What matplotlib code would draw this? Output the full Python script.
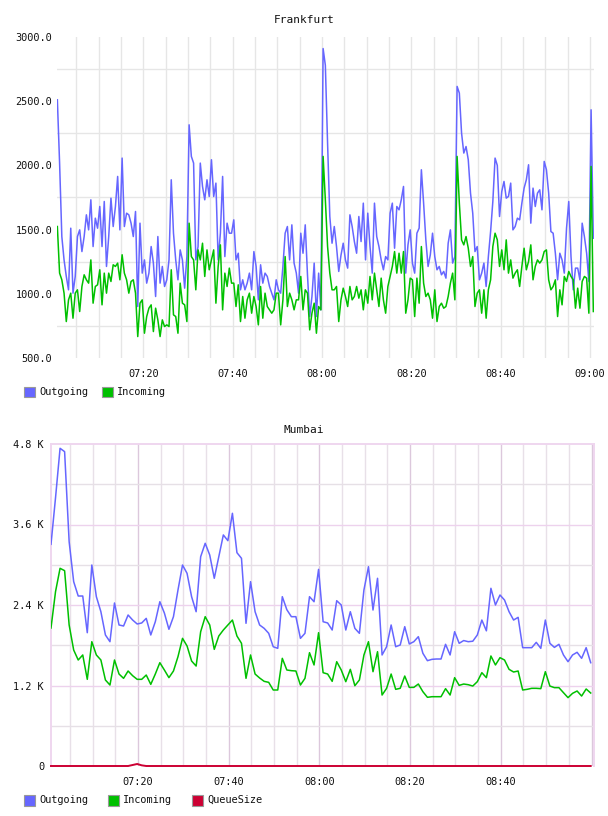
import matplotlib
matplotlib.use('Agg')
import matplotlib.pyplot as plt
import numpy as np
from matplotlib.patches import Rectangle

# ---------------- data ----------------
fra_outgoing = [
    2511, 2018, 1446, 1264, 1135, 1031, 1511, 1005, 1135, 1446,
    1498, 1329, 1446, 1615, 1498, 1732, 1368, 1589, 1511, 1680,
    1368, 1719, 1213, 1446, 1745, 1524, 1680, 1914, 1498, 2057,
    1524, 1628, 1615, 1550, 1446, 1641, 901, 1550, 1161, 1264,
    1083, 1161, 1368, 1239, 979, 1446, 1083, 1213, 1057, 1109,
    1264, 1888, 1472, 1264, 1109, 1342, 1264, 1044, 1290, 2316,
    2070, 2018,
    1264, 1368, 2018, 1836, 1732, 1888, 1758, 2044, 1758, 1862,
    1264, 1472, 1914, 1290, 1550, 1472, 1472, 1576, 1264, 1316,
    1031, 1109, 1031, 1083, 1161, 1031, 1329, 1213, 953, 1226,
    1083, 1161, 1135, 1057, 1005, 953, 1109, 1031, 1005, 1213,
    1472, 1524, 1264, 1537, 1239, 1161, 1005, 1472, 1316, 1537,
    1148, 823, 979, 1239, 823, 1161, 875, 2910, 2780, 2173,
    1602, 1394,
    1524, 1368, 1174, 1300, 1394, 1264, 1200, 1615, 1524, 1407,
    1316, 1602, 1407, 1706, 1264, 1628, 1368, 1161, 1706, 1446,
    1368, 1264, 1187, 1290, 1264, 1628, 1706, 1355, 1680, 1654,
    1732, 1836, 1161, 1381, 1498, 1239, 1161, 1472, 1511, 1966,
    1706, 1420, 1213, 1303, 1472, 1290, 1187, 1213, 1148, 1174,
    1122, 1394, 1498, 1239, 1290, 2615, 2563, 2251, 2096, 2147,
    2044, 1784,
    1628, 1329, 1368, 1109, 1161, 1239, 1057, 1290, 1485, 1719,
    2057, 2000, 1602, 1797, 1875, 1745, 1758, 1862, 1498, 1524,
    1589, 1576, 1706, 1823, 1888, 2005, 1550, 1823, 1680, 1784,
    1810, 1654, 2031, 1966, 1784, 1485, 1472, 1316, 1109, 1316,
    1264, 1161, 1511, 1719, 1290, 1031, 1200, 1200, 1109, 1550,
    1446, 1316, 1096, 2433, 1433,
]
fra_incoming = [
    1524, 1161, 1109, 1005, 784, 953, 1005, 810, 1005, 1031,
    862, 1057, 1148, 1109, 1083, 1264, 927, 1057, 1070, 1187,
    914, 1161, 1005, 1161, 1096, 1226, 1213, 1239, 1109, 1304,
    1161, 1109, 1005, 1096, 1109, 1005, 667, 927, 953, 693,
    823, 888, 914, 706, 888, 797, 667, 797, 745, 758,
    745, 1187, 836, 823, 693, 1083, 927, 914, 784, 1550,
    1290, 1264,
    1031, 1342, 1264, 1394, 1135, 1342, 1187, 1264, 1342, 927,
    1213, 1381, 875, 1161, 1057, 1200, 1083, 1083, 901, 1070,
    784, 979, 810, 953, 1005, 849, 979, 901, 758, 1057,
    810, 1005, 901, 875, 849, 875, 1005, 1005, 758, 953,
    1290, 901, 1005, 953, 875, 953, 953, 1135, 875, 1031,
    1005, 719, 849, 927, 693, 901, 875, 2070, 1732, 1368,
    1161, 1031,
    1031, 1057, 784, 953, 1044, 979, 901, 1057, 953, 979,
    1057, 966, 1031, 875, 1031, 927, 1135, 953, 1161, 1031,
    901, 1122, 953, 849, 1057, 1135, 1213, 1329, 1161, 1316,
    1161, 1329, 849, 953, 1122, 1109, 823, 1122, 927, 1368,
    1083, 979, 1005, 953, 810, 1031, 784, 901, 927, 888,
    901, 979, 1083, 1161, 953, 2070, 1706, 1420, 1381, 1446,
    1355, 1213,
    1290, 901, 1005, 1031, 849, 1031, 810, 1031, 1109, 1368,
    1472, 1420, 1213, 1342, 1187, 1420, 1161, 1264, 1122, 1161,
    1187, 1057, 1213, 1355, 1187, 1252, 1381, 1109, 1213, 1264,
    1239, 1264, 1329, 1342, 1109, 1031, 1057, 1109, 823, 1031,
    914, 1135, 1096, 1174, 1135, 1109, 888, 1044, 888, 1096,
    1135, 1122, 849, 1992, 862,
]

mum_outgoing = [
    3305, 4000, 4736, 4686, 3344, 2748, 2534, 2534, 1987, 2996,
    2524, 2300, 1953, 1853, 2430, 2102, 2087, 2251, 2176, 2117,
    2132, 2201, 1953, 2151, 2449, 2280, 2038, 2226, 2624, 2996,
    2872, 2524, 2300, 3120, 3320, 3145, 2798, 3120, 3444, 3359,
    3767, 3180, 3096, 2127, 2748, 2300, 2102, 2052, 1978, 1778,
    1754, 2524, 2330, 2226, 2226, 1903, 1978, 2524, 2449, 2931,
    2151, 2132, 2027, 2464, 2400, 2027, 2300, 2052, 1978, 2624,
    2971, 2325, 2798, 1655, 1778, 2102, 1778, 1804, 2077, 1819,
    1853, 1928, 1680, 1570, 1590, 1595, 1595, 1814, 1655, 2002,
    1829, 1870, 1853, 1860, 1953, 2176, 2015, 2649, 2400, 2549,
    2474, 2300, 2176, 2216, 1764, 1764, 1764, 1843, 1754, 2176,
    1829, 1768, 1814, 1655, 1555, 1655, 1695, 1605, 1764, 1540,
]
mum_incoming = [
    2057, 2600, 2947, 2912, 2102, 1729, 1580, 1655, 1292, 1853,
    1655, 1580, 1282, 1207, 1580, 1371, 1307, 1416, 1346, 1292,
    1292, 1356, 1217, 1371, 1540, 1431, 1317, 1416, 1630, 1903,
    1789, 1565, 1490, 2002, 2226, 2102, 1739, 1938, 2027, 2102,
    2176, 1938, 1829, 1307, 1655, 1371, 1312, 1262, 1247, 1133,
    1133, 1605, 1431, 1421, 1416, 1207, 1307, 1689, 1506, 1987,
    1391, 1371, 1262, 1555, 1431, 1257, 1441, 1197, 1282, 1655,
    1853, 1406, 1704, 1058, 1158, 1371, 1143, 1158, 1341, 1172,
    1172, 1222, 1108, 1024, 1033, 1033, 1033, 1153, 1058, 1317,
    1202, 1222, 1212, 1192, 1257, 1391, 1317, 1640, 1506, 1615,
    1580, 1441, 1401, 1416, 1133, 1143, 1158, 1158, 1153, 1406,
    1192, 1168, 1168, 1093, 1019, 1083, 1118, 1043, 1148, 1088,
]
mum_queue = [0] * 18 + [15, 30, 10] + [0] * 99

fra_yticks = [500, 1000, 1500, 2000, 2500, 3000]
mum_yticks = [0, 1200, 2400, 3600, 4800]
mum_ylabels = ['0', '1.2 K', '2.4 K', '3.6 K', '4.8 K']
x_ticks = [20, 40, 60, 80, 100, 120]          # minutes after 07:00
x_labels = ['07:20', '07:40', '08:00', '08:20', '08:40', '09:00']

# ---------------- style ----------------
C_OUT = '#6666ff'
C_IN = '#00c000'
C_Q = '#cc0033'
FONT = 'DejaVu Sans Mono'
FS = 7.4

W, H = 608, 816
fig = plt.figure(figsize=(W / 100, H / 100), dpi=100)
fig.patch.set_facecolor('white')


def ax_rect(l, t, r, b):
    return [l / W, 1 - b / H, (r - l) / W, (b - t) / H]


# ---------------- Frankfurt ----------------
ax1 = fig.add_axes(ax_rect(57, 37, 594, 358))
t_fra = 0.75 + 0.5 * np.arange(len(fra_outgoing))
ax1.set_xlim(0.67, 120.9)
ax1.set_ylim(500, 3000)
for s in ax1.spines.values():
    s.set_visible(False)
for m in range(5, 125, 5):
    ax1.axvline(m, color='#e6e6e6', lw=1.0, zorder=0)
for v in range(750, 3000, 500):
    ax1.axhline(v, color='#e6e6e6', lw=1.0, zorder=0)
ax1.plot(t_fra, fra_outgoing, color=C_OUT, lw=1.1, zorder=3)
ax1.plot(t_fra, fra_incoming, color=C_IN, lw=1.1, zorder=4)
ax1.set_yticks(fra_yticks)
ax1.set_yticklabels(['%.1f' % v for v in fra_yticks])
ax1.set_xticks(x_ticks)
ax1.set_xticklabels(x_labels)
ax1.tick_params(axis='y', length=0, pad=3.5, labelsize=FS)
ax1.tick_params(axis='x', length=0, pad=8, labelsize=FS)
for lab in ax1.get_xticklabels() + ax1.get_yticklabels():
    lab.set_fontfamily(FONT)
    lab.set_color('#111111')

fig.text(304 / W, 1 - 20 / H, 'Frankfurt', ha='center', va='center',
         fontsize=8.0, family=FONT, color='#111111')

# ---------------- Mumbai ----------------
ax2 = fig.add_axes(ax_rect(51, 444, 594, 766))
t_mum = 0.82 + np.arange(len(mum_outgoing))
ax2.set_xlim(0.82, 120.55)
ax2.set_ylim(0, 4800)
for name, s in ax2.spines.items():
    s.set_color('#efd6ef')
    s.set_linewidth(1.4)
ax2.spines['bottom'].set_visible(False)
for m in range(5, 125, 5):
    if m % 20 == 0:
        ax2.axvline(m, color='#dcc8dc', lw=1.0, zorder=0)
    else:
        ax2.axvline(m, color='#e8e0e8', lw=1.0, zorder=0)
for v in range(600, 4800, 600):
    if v % 1200 == 0:
        ax2.axhline(v, color='#edd2ed', lw=1.0, zorder=0)
    else:
        ax2.axhline(v, color='#e6e0e6', lw=1.0, zorder=0)
ax2.plot(t_mum, mum_outgoing, color=C_OUT, lw=1.1, zorder=3)
ax2.plot(t_mum, mum_incoming, color=C_IN, lw=1.1, zorder=4)
ax2.plot(t_mum, mum_queue, color=C_Q, lw=1.4, zorder=5, clip_on=False)
ax2.set_yticks(mum_yticks)
ax2.set_yticklabels(mum_ylabels)
ax2.set_xticks(x_ticks[:-1])
ax2.set_xticklabels(x_labels[:-1])
ax2.tick_params(axis='y', length=0, pad=5, labelsize=FS)
ax2.tick_params(axis='x', length=0, pad=8, labelsize=FS)
for lab in ax2.get_xticklabels() + ax2.get_yticklabels():
    lab.set_fontfamily(FONT)
    lab.set_color('#111111')

fig.text(304 / W, 1 - 430 / H, 'Mumbai', ha='center', va='center',
         fontsize=8.0, family=FONT, color='#111111')


# ---------------- legends ----------------
def legend_item(x, y, color, label):
    fig.patches.append(Rectangle((x / W, 1 - (y + 5.5) / H), 11 / W, 11 / H,
                                 transform=fig.transFigure, facecolor=color,
                                 edgecolor='#999999', lw=0.8))
    fig.text((x + 15) / W, 1 - y / H, label, ha='left', va='center',
             fontsize=FS, family=FONT, color='#111111')


legend_item(24, 392, C_OUT, 'Outgoing')
legend_item(102, 392, C_IN, 'Incoming')
legend_item(24, 800, C_OUT, 'Outgoing')
legend_item(108, 800, C_IN, 'Incoming')
legend_item(192, 800, C_Q, 'QueueSize')

fig.savefig('out.png', dpi=100, facecolor='white')
